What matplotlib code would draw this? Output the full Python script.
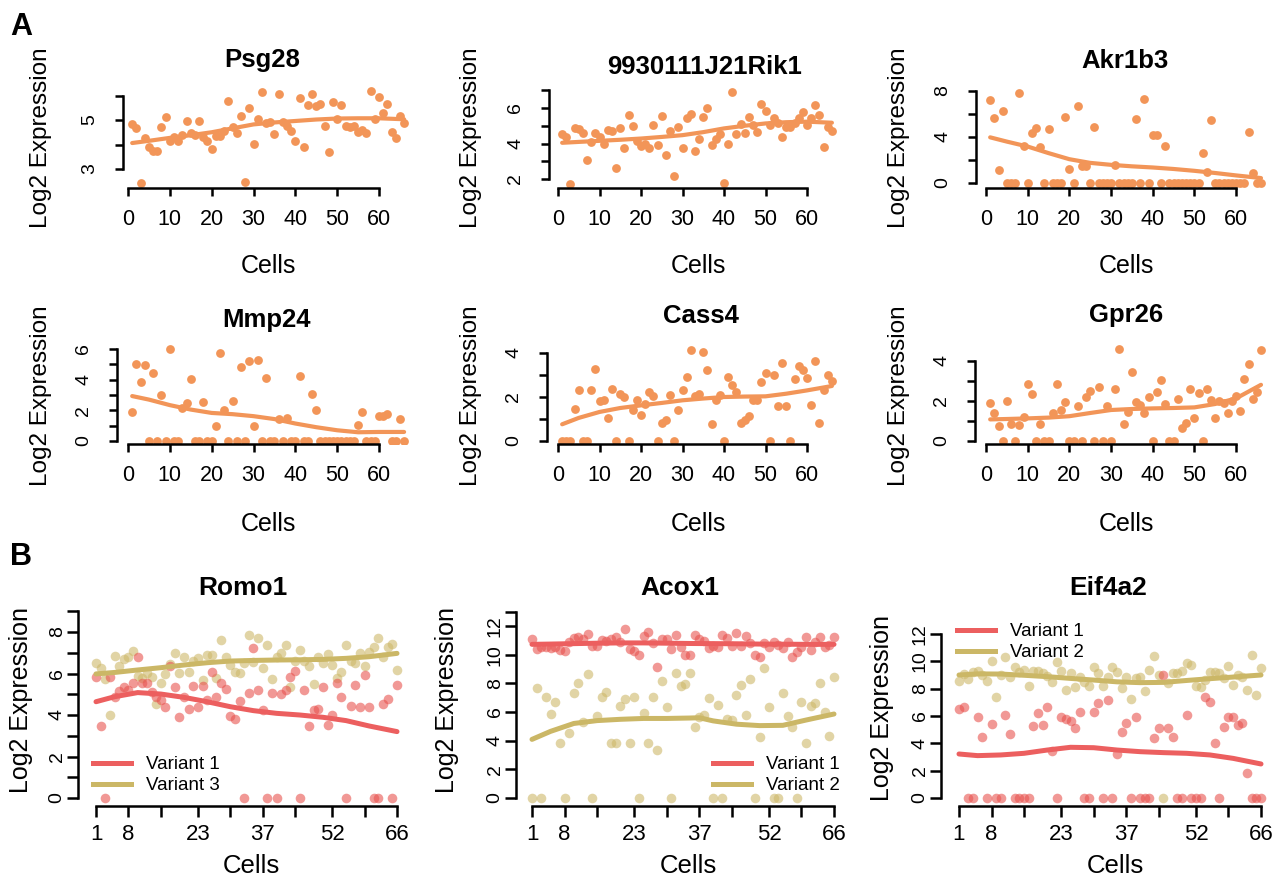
import matplotlib
matplotlib.use("Agg")
import matplotlib.pyplot as plt
from matplotlib.lines import Line2D
import numpy as np

plt.rcParams['font.family'] = ['Liberation Sans', 'DejaVu Sans']

W, H = 1288, 877
CELLS = np.arange(1, 67)

# ---- panel A: single gene expression per cell ----
PSG28 = [4.82, 4.68, 2.41, 4.27, 3.88, 3.75, 3.75, 4.71, 5.12, 4.16,
         4.31, 4.13, 4.4, 4.94, 4.45, 4.4, 4.97, 4.31, 4.13, 3.82,
         4.36, 4.36, 4.54, 5.76, 4.71, 4.47, 5.17, 2.47, 5.47, 4.02,
         5.06, 6.15, 4.86, 4.92, 4.42, 6.05, 4.92, 4.75, 4.54, 4.16,
         5.9, 3.88, 5.6, 6.05, 5.58, 5.65, 4.75, 3.71, 5.75, 5.06,
         5.6, 4.75, 4.71, 4.75, 4.5, 4.61, 4.45, 6.18, 5.03, 5.93,
         5.3, 5.65, 4.5, 4.27, 5.17, 4.89]
RIK = [4.53, 4.38, 1.74, 4.85, 4.79, 4.57, 3.06, 4.09, 4.6, 4.34,
       4.0, 4.75, 4.72, 2.62, 4.85, 3.72, 5.6, 4.98, 4.15, 3.87,
       4.0, 3.77, 5.04, 3.9, 5.55, 3.34, 4.7, 2.17, 4.94, 3.72,
       5.42, 5.66, 3.58, 4.28, 5.47, 6.02, 3.94, 4.23, 4.53, 1.79,
       4.0, 6.89, 4.53, 5.09, 4.6, 5.47, 5.04, 4.66, 6.23, 5.83,
       5.04, 5.42, 5.17, 4.38, 4.94, 4.91, 5.17, 5.42, 5.75, 5.04,
       5.42, 6.17, 5.6, 3.81, 4.94, 4.72]
AKR1B3 = [7.25, 5.67, 1.09, 6.27, 0, 0, 0, 7.86, 3.22, 0,
          4.37, 4.8, 3.17, 0, 4.69, 0, 0, 0, 5.76, 1.24,
          0, 6.68, 1.44, 1.44, 0, 4.83, 0, 0, 0, 0,
          1.58, 0, 0, 0, 0, 5.55, 0, 7.28, 0, 4.17,
          4.17, 0, 3.22, 0, 0, 0, 0, 0, 0, 0,
          0, 2.59, 1.0, 5.47, 0, 0, 0, 0, 0, 0,
          0, 0, 4.46, 0.86, 0, 0]
MMP24 = [1.86, 5.02, 3.86, 4.93, 0, 4.41, 0, 3.03, 0, 5.98,
         0, 0, 2.12, 2.45, 4.04, 0, 0, 2.55, 0, 0,
         0.98, 5.74, 2.0, 0, 2.6, 0, 4.8, 0, 5.22, 0.96,
         5.28, 0, 4.13, 0, 0, 1.46, 0, 1.5, 0, 0,
         4.24, 0, 0, 3.06, 2.0, 0, 0, 0, 0, 0,
         0, 0, 0, 0, 1.07, 1.86, 0, 0, 0, 1.64,
         1.64, 1.75, 0, 0, 1.42, 0]
CASS4 = [0, 0, 0, 1.47, 2.3, 0, 0, 2.33, 3.26, 1.8,
         1.88, 1.05, 2.38, 0, 2.12, 2.0, 0, 1.42, 1.85, 1.2,
         1.7, 2.23, 2.05, 0, 0.82, 0.94, 2.08, 0, 1.39, 2.33,
         2.91, 4.15, 2.03, 2.15, 4.05, 3.21, 0.79, 1.88, 2.08, 0,
         2.91, 2.53, 2.23, 0.82, 0.94, 1.14, 1.85, 1.88, 2.68, 3.09,
         0, 2.98, 1.58, 3.55, 1.58, 0, 2.83, 3.39, 3.21, 2.86,
         1.62, 3.62, 0.83, 2.33, 2.98, 2.73]
GPR26 = [1.88, 1.38, 0.74, 0, 2.0, 0.87, 0, 0.82, 1.21, 2.84,
         2.34, 0, 0.87, 0, 0, 1.38, 2.86, 1.55, 1.97, 0,
         0, 1.76, 0, 2.22, 2.52, 0, 2.69, 0, 1.76, 0,
         2.6, 4.6, 0.87, 1.43, 3.43, 1.93, 1.8, 1.41, 2.18, 0,
         2.44, 3.03, 1.83, 0, 0, 2.08, 0.66, 0.91, 2.59, 1.16,
         2.39, 0, 2.6, 2.05, 1.13, 2.0, 1.88, 1.38, 2.0, 2.27,
         1.5, 3.09, 3.85, 2.08, 2.47, 4.57]

# smoothed trends
FIT_X = [1, 5, 10, 15, 20, 25, 30, 35, 40, 45, 50, 55, 60, 66]
PSG28_FIT = [4.06, 4.15, 4.27, 4.38, 4.5, 4.66, 4.82, 4.9, 4.96, 5.02, 5.06, 5.07, 5.07, 5.03]
RIK_FIT = [4.04, 4.09, 4.15, 4.21, 4.28, 4.37, 4.47, 4.64, 4.85, 5.0, 5.13, 5.2, 5.23, 5.17]
AKR1B3_FIT = [3.97, 3.6, 3.17, 2.6, 2.07, 1.75, 1.58, 1.45, 1.35, 1.22, 1.06, 0.87, 0.66, 0.43]
MMP24_FIT = [2.93, 2.7, 2.34, 2.05, 1.83, 1.75, 1.62, 1.43, 1.14, 0.9, 0.7, 0.57, 0.59, 0.59]
CASS4_FIT = [0.76, 1.05, 1.32, 1.5, 1.62, 1.73, 1.85, 1.93, 2.0, 2.02, 2.03, 2.15, 2.3, 2.5]
GPR26_FIT = [1.08, 1.1, 1.13, 1.17, 1.24, 1.4, 1.55, 1.6, 1.63, 1.65, 1.68, 1.85, 2.13, 2.81]

# ---- panel B: two transcript variants per gene ----
ROMO1_V1 = [5.82, 3.47, 0, 5.82, 4.88, 5.17, 5.33, 5.2, 5.56, 6.78,
            5.53, 5.56, 5.12, 4.88, 4.72, 4.4, 6.35, 5.33, 3.89, 4.85,
            4.3, 5.4, 4.4, 5.4, 4.72, 6.09, 4.85, 5.56, 5.24, 3.95,
            3.79, 4.69, 0, 5.08, 7.21, 5.2, 4.24, 0, 5.08, 0,
            5.01, 5.2, 5.85, 6.14, 0, 5.2, 3.47, 4.24, 4.27, 5.33,
            3.52, 4.0, 5.53, 4.85, 0, 4.43, 5.45, 4.37, 5.93, 4.4,
            0, 0, 4.53, 4.76, 0, 5.45]
ROMO1_V3 = [6.52, 6.25, 5.72, 4.0, 6.84, 6.36, 6.68, 6.81, 7.1, 5.9,
            5.77, 6.04, 5.82, 4.53, 5.56, 5.98, 6.46, 7.0, 6.04, 6.81,
            6.09, 6.62, 6.73, 5.69, 6.89, 6.89, 5.77, 7.61, 6.81, 6.41,
            6.09, 6.01, 6.52, 7.86, 6.57, 7.7, 6.25, 7.37, 5.72, 6.81,
            6.97, 7.37, 5.37, 6.62, 7.13, 6.62, 6.36, 5.49, 6.81, 6.49,
            6.92, 6.41, 5.77, 6.09, 7.37, 6.62, 6.49, 6.97, 6.36, 7.05,
            7.29, 7.7, 6.81, 7.29, 7.42, 6.17]
ACOX1_V1 = [11.07, 10.37, 10.56, 10.56, 10.44, 10.56, 10.33, 10.28, 10.91, 11.14,
            11.26, 11.07, 11.44, 10.6, 10.6, 11.02, 10.98, 11.07, 11.26, 10.91,
            11.77, 10.37, 10.28, 9.98, 11.3, 11.56, 10.84, 9.16, 11.07, 11.07,
            10.37, 11.37, 10.56, 9.98, 9.98, 11.37, 11.07, 10.98, 10.44, 10.6,
            10.56, 11.37, 11.14, 10.6, 11.49, 10.6, 11.3, 10.79, 9.98, 9.86,
            10.79, 10.56, 10.91, 10.67, 10.44, 10.91, 9.86, 10.21, 10.56, 11.26,
            10.33, 10.91, 11.2, 10.56, 10.67, 11.26]
ACOX1_V2 = [0, 7.65, 0, 7.07, 5.86, 6.72, 3.86, 0, 4.51, 7.3,
            8.0, 5.3, 8.65, 0, 5.72, 7.07, 7.42, 3.81, 3.81, 6.42,
            6.88, 3.86, 7.02, 0, 5.95, 3.81, 7.02, 3.35, 8.19, 6.37,
            0, 8.74, 7.81, 7.95, 8.74, 4.98, 5.67, 5.79, 6.95, 0,
            6.49, 0, 5.49, 5.44, 7.19, 7.88, 5.79, 8.28, 0, 4.28,
            9.05, 6.37, 0, 0, 7.3, 5.72, 4.96, 0, 6.72, 3.86,
            6.42, 6.6, 8.0, 6.02, 4.33, 8.47]
EIF4A2_V1 = [6.49, 6.63, 0, 0, 5.9, 4.44, 0, 5.41, 0, 0,
             6.07, 4.68, 0, 0, 0, 0, 5.27, 6.2, 5.34, 6.63,
             3.46, 0, 5.9, 5.76, 5.66, 5.1, 6.32, 0, 0, 6.32,
             6.98, 0, 7.17, 0, 3.22, 4.85, 5.46, 0, 5.95, 0,
             0, 0, 4.37, 5.1, 9.0, 5.1, 4.44, 0, 0, 6.07,
             0, 0, 0, 7.37, 7.0, 4.0, 0, 5.17, 5.9, 5.9,
             5.34, 5.46, 1.85, 0, 0, 0]
EIF4A2_V2 = [8.59, 9.07, 8.68, 9.24, 9.32, 9.0, 8.59, 10.05, 7.41, 9.0,
             10.29, 8.88, 9.56, 9.24, 9.37, 8.2, 9.32, 9.32, 9.12, 8.93,
             8.51, 9.98, 9.32, 7.9, 9.12, 8.1, 8.88, 8.51, 8.2, 9.61,
             9.12, 8.2, 8.88, 9.61, 9.24, 8.02, 8.88, 7.22, 8.76, 8.88,
             7.85, 9.37, 10.39, 9.0, 0, 8.44, 9.17, 9.17, 9.32, 9.9,
             9.73, 8.2, 8.15, 8.63, 9.24, 9.24, 9.17, 8.76, 9.66, 8.27,
             9.0, 8.88, 7.9, 10.46, 7.54, 9.49]

ROMO1_V1_FIT = [4.64, 4.88, 5.08, 5.01, 4.85, 4.64, 4.4, 4.21, 4.08, 4.0, 3.89, 3.73, 3.47, 3.2]
ROMO1_V3_FIT = [5.98, 6.05, 6.17, 6.28, 6.41, 6.52, 6.6, 6.63, 6.65, 6.66, 6.68, 6.73, 6.81, 6.97]
ACOX1_V1_FIT = [10.72, 10.74, 10.77, 10.8, 10.82, 10.82, 10.8, 10.78, 10.77, 10.76, 10.74, 10.73, 10.72, 10.72]
ACOX1_FIT2_X = [1, 5, 10, 15, 20, 25, 30, 35, 37, 40, 45, 50, 55, 60, 66]
ACOX1_V2_FIT = [4.09, 4.65, 5.2, 5.4, 5.49, 5.55, 5.55, 5.58, 5.6, 5.38, 5.15, 5.05, 5.07, 5.44, 5.86]
EIF4A2_V1_FIT = [3.22, 3.1, 3.15, 3.27, 3.51, 3.71, 3.68, 3.51, 3.39, 3.32, 3.27, 3.15, 2.9, 2.49]
EIF4A2_V2_FIT = [9.0, 9.08, 9.07, 8.98, 8.88, 8.75, 8.63, 8.5, 8.44, 8.46, 8.6, 8.73, 8.85, 9.0]

B_XTICKS = [1, 8, 15, 23, 30, 37, 44, 52, 59, 66]
B_XLABELS = ['1', '8', '', '23', '', '37', '', '52', '', '66']

ORANGE = '#F29558'
RED_PT, RED_LN = '#E8534F', '#EC5F5F'
KHAKI_PT, KHAKI_LN = '#CDB86A', '#CBB766'

fig = plt.figure(figsize=(W / 100, H / 100), dpi=100)


def ftext(x, y, s, size, **kw):
    fig.text(x / W, 1 - y / H, s, fontsize=size, **kw)


def make_axes(box, xref, yref, xticks, xlabels, yticks, ylabels, row_b=False):
    left, right, top, bottom = box
    ax = fig.add_axes([left / W, 1 - bottom / H, (right - left) / W, (bottom - top) / H])
    (xv0, xp0), (xv1, xp1) = xref
    sx = (xp1 - xp0) / (xv1 - xv0)
    ax.set_xlim(xv0 + (left - xp0) / sx, xv0 + (right - xp0) / sx)
    (yv0, yp0), (yv1, yp1) = yref
    sy = (yp0 - yp1) / (yv1 - yv0)
    ax.set_ylim(yv0 - (bottom - yp0) / sy, yv0 + (yp0 - top) / sy)

    for s in ['top', 'right']:
        ax.spines[s].set_visible(False)
    ax.spines['left'].set_bounds(yticks[0], yticks[-1])
    ax.spines['bottom'].set_bounds(xticks[0], xticks[-1])
    for s in ['left', 'bottom']:
        ax.spines[s].set_linewidth(1.8)
    ax.set_xticks(xticks, xlabels)
    ax.set_yticks(yticks, ylabels)
    if row_b:
        ax.tick_params(axis='both', length=7.9, width=1.8)
        ax.tick_params(axis='x', labelsize=16, pad=5)
        ax.tick_params(axis='y', labelsize=14, pad=1)
    else:
        ax.tick_params(axis='both', length=5.8, width=1.8)
        ax.tick_params(axis='x', labelsize=15.5, pad=9)
        ax.tick_params(axis='y', labelsize=14, pad=12)
    for lab in ax.get_yticklabels():
        lab.set_rotation(90)
        lab.set_va('center')
    ax.patch.set_visible(False)
    return ax


A_XTICKS = [0, 10, 20, 30, 40, 50, 60]
A_XLABELS = [str(t) for t in A_XTICKS]

a_panels = [
    # name, values, fit, box, xref, yref, yticks, ylabels, title pos
    ('Psg28', PSG28, PSG28_FIT, (123, 410, 87, 188), ((0, 128), (60, 379)),
     ((3, 169), (5, 120)), [3, 4, 5, 6], ['3', '', '5', ''], (262, 67)),
    ('9930111J21Rik1', RIK, RIK_FIT, (549, 840, 87, 188), ((0, 558), (60, 807)),
     ((2, 179), (6, 108)), [2, 3, 4, 5, 6, 7], ['2', '', '4', '', '6', ''], (705, 74)),
    ('Akr1b3', AKR1B3, AKR1B3_FIT, (976, 1270, 85, 188), ((0, 986), (60, 1236)),
     ((0, 183), (8, 91)), [0, 2, 4, 6, 8], ['0', '', '4', '', '8'], (1125, 68)),
    ('Mmp24', MMP24, MMP24_FIT, (117, 410, 344, 444), ((0, 128), (60, 379)),
     ((0, 441), (6, 349)), [0, 1, 2, 3, 4, 5, 6], ['0', '', '2', '', '4', '', '6'], (267, 327)),
    ('Cass4', CASS4, CASS4_FIT, (547, 840, 346, 444), ((0, 558), (60, 807)),
     ((0, 441), (4, 353)), [0, 1, 2, 3, 4], ['0', '', '2', '', '4'], (701, 323)),
    ('Gpr26', GPR26, GPR26_FIT, (975, 1270, 345, 444), ((0, 986), (60, 1236)),
     ((0, 441), (4, 361)), [0, 1, 2, 3, 4], ['0', '', '2', '', '4'], (1126, 322)),
]

for i, (name, vals, fit, box, xref, yref, yt, yl, tpos) in enumerate(a_panels):
    ax = make_axes(box, xref, yref, A_XTICKS, A_XLABELS, yt, yl)
    ax.scatter(CELLS, vals, s=40, color=ORANGE, linewidths=0, zorder=2)
    ax.plot(FIT_X, fit, color=ORANGE, lw=3.0, solid_capstyle='round', zorder=3)
    ftext(tpos[0], tpos[1], name, 18.5, weight='bold', ha='center', va='baseline')
    col_x = [0, 430, 858][i % 3]
    row_y = [0, 258][i // 3]
    ftext(col_x + 41, row_y + 138, 'Log2 Expression', 17.5, rotation=90, ha='center', va='center')
    ftext(col_x + 268, row_y + 273, 'Cells', 18, ha='center', va='baseline')

b_panels = [
    ('Romo1', ROMO1_V1, ROMO1_V3, FIT_X, ROMO1_V1_FIT, FIT_X, ROMO1_V3_FIT, 'Variant 3',
     (78, 415, 604, 806), ((1, 96), (66, 397)), ((0, 798), (8, 632)),
     list(range(10)), ['0', '', '2', '', '4', '', '6', '', '8', ''],
     (243, 595), (21, 700), (251, 873), (93, 752)),
    ('Acox1', ACOX1_V1, ACOX1_V2, FIT_X, ACOX1_V1_FIT, ACOX1_FIT2_X, ACOX1_V2_FIT, 'Variant 2',
     (516, 850, 604, 806), ((1, 532), (66, 834)), ((0, 798), (12, 626)),
     [0, 2, 4, 6, 8, 10, 12, 13], ['0', '2', '4', '6', '8', '10', '12', ''],
     (680, 595), (447, 700), (688, 873), (713, 752)),
    ('Eif4a2', EIF4A2_V1, EIF4A2_V2, FIT_X, EIF4A2_V1_FIT, FIT_X, EIF4A2_V2_FIT, 'Variant 2',
     (941, 1277, 604, 806), ((1, 959), (66, 1261)), ((0, 798), (12, 634)),
     [0, 2, 4, 6, 8, 10, 12], ['0', '2', '4', '6', '8', '10', '12'],
     (1108, 595), (882, 708), (1115, 873), (957, 619)),
]

for (name, v1, v2, fx1, f1, fx2, f2, lab2, box, xref, yref, yt, yl,
     tpos, ylpos, xlpos, legpos) in b_panels:
    ax = make_axes(box, xref, yref, B_XTICKS, B_XLABELS, yt, yl, row_b=True)
    ax.scatter(CELLS, v2, s=48, color=KHAKI_PT, alpha=0.6, linewidths=0, zorder=2)
    ax.scatter(CELLS, v1, s=48, color=RED_PT, alpha=0.6, linewidths=0, zorder=2)
    ax.plot(fx2, f2, color=KHAKI_LN, lw=3.6, solid_capstyle='round', zorder=3)
    ax.plot(fx1, f1, color=RED_LN, lw=3.6, solid_capstyle='round', zorder=3)
    handles = [Line2D([], [], color=RED_LN, lw=3.6), Line2D([], [], color=KHAKI_LN, lw=3.6)]
    ax.legend(handles, ['Variant 1', lab2], loc='upper left', frameon=False,
              bbox_to_anchor=(legpos[0] / W, 1 - (legpos[1] + 4) / H),
              bbox_transform=fig.transFigure,
              borderpad=0, borderaxespad=0, handlelength=2.05, handletextpad=0.8,
              labelspacing=0.22, fontsize=13.5)
    ftext(tpos[0], tpos[1], name, 19, weight='bold', ha='center', va='baseline')
    ftext(ylpos[0], ylpos[1], 'Log2 Expression', 18, rotation=90, ha='center', va='center')
    ftext(xlpos[0], xlpos[1], 'Cells', 18.5, ha='center', va='baseline')

ftext(10, 35, 'A', 22, weight='bold', ha='left', va='baseline')
ftext(10, 565, 'B', 22, weight='bold', ha='left', va='baseline')

fig.savefig('out.png', dpi=100)
